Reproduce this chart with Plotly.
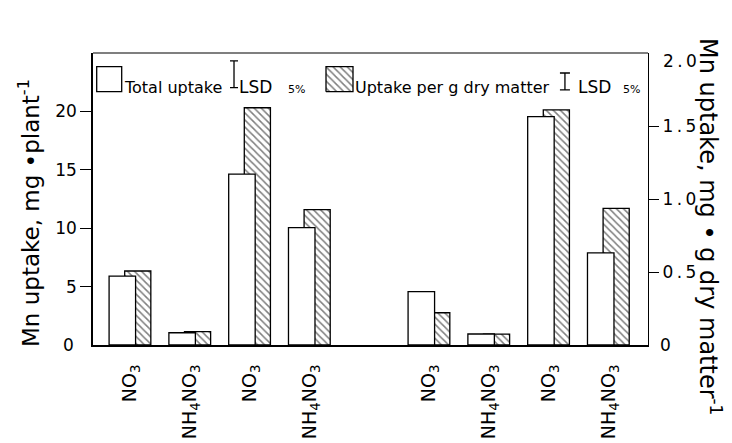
import plotly.graph_objects as go

# ---- data ----
tick_labels = ["NO<sub>3</sub>", "NH<sub>4</sub>NO<sub>3</sub>", "NO<sub>3</sub>", "NH<sub>4</sub>NO<sub>3</sub>",
               "NO<sub>3</sub>", "NH<sub>4</sub>NO<sub>3</sub>", "NO<sub>3</sub>", "NH<sub>4</sub>NO<sub>3</sub>"]
slots = [1, 2, 3, 4, 6, 7, 8, 9]          # category slots (slot 5 is the gap between the two sets)
total_uptake = [5.9, 1.05, 14.63, 10.05, 4.57, 0.94, 19.56, 7.88]        # mg / plant (left axis)
uptake_per_g = [0.507, 0.091, 1.625, 0.927, 0.221, 0.075, 1.61, 0.936]   # mg / g dry matter (right axis)
left_ticks = [5, 10, 15, 20]
right_ticks = [0.5, 1.0, 1.5]
right_tick_text = ["0\u2009.\u20095", "1\u2009.\u20090", "1\u2009.\u20095"]
lsd_total = 2.3     # mg / plant
lsd_per_g = 0.116   # mg / g dry matter

FONT = "DejaVu Sans"
W, H = 732, 443
L, R, T, B = 93, 84, 53, 98
PW, PH = W - L - R, H - T - B


def px(xp):
    return (xp - L) / PW


def py(yp):
    return (H - B - yp) / PH


fig = go.Figure()

# hatched bars: uptake per g dry matter (primary y, drawn on the right side)
fig.add_trace(go.Bar(
    x=slots, y=uptake_per_g, yaxis="y", width=0.437, offset=-0.089,
    marker=dict(color="white", line=dict(color="black", width=1.3),
                pattern=dict(shape="\\", fgcolor="black", bgcolor="white", size=5, solidity=0.3)),
    showlegend=False, hoverinfo="skip"))

# white bars: total uptake (overlaying axis, drawn on the left side, in front)
fig.add_trace(go.Bar(
    x=slots, y=total_uptake, yaxis="y2", width=0.443, offset=-0.35,
    marker=dict(color="white", line=dict(color="black", width=1.3)),
    showlegend=False, hoverinfo="skip"))

# LSD bars in the legend row
fig.add_trace(go.Scatter(
    x=[2.739], y=[23.18], yaxis="y2", mode="markers", marker=dict(size=1, color="rgba(0,0,0,0)"),
    error_y=dict(type="data", array=[lsd_total / 2], color="black", thickness=1.3, width=4),
    showlegend=False, hoverinfo="skip"))
fig.add_trace(go.Scatter(
    x=[8.273], y=[1.805], yaxis="y", mode="markers", marker=dict(size=1, color="rgba(0,0,0,0)"),
    error_y=dict(type="data", array=[lsd_per_g / 2], color="black", thickness=1.3, width=5),
    showlegend=False, hoverinfo="skip"))

# hatched legend swatch (normalised overlay axes)
x0, x1, y0, y1 = px(326), px(353), py(91.7), py(66.7)
fig.add_trace(go.Scatter(
    x=[x0, x1, x1, x0, x0], y=[y0, y0, y1, y1, y0], xaxis="x3", yaxis="y3",
    mode="lines", fill="toself", fillcolor="white", line=dict(color="black", width=1.3),
    fillpattern=dict(shape="\\", fgcolor="black", bgcolor="white", size=5, solidity=0.3),
    showlegend=False, hoverinfo="skip"))

fig.update_layout(
    width=W, height=H, margin=dict(l=L, r=R, t=T, b=B, autoexpand=False),
    paper_bgcolor="white", plot_bgcolor="white",
    font=dict(family=FONT, color="black"),
    barmode="overlay",
    xaxis=dict(range=[0.381, 9.662], tickvals=slots, ticktext=tick_labels, tickangle=-90,
               tickfont=dict(size=19, family=FONT, color="black"), ticks="",
               showline=True, linecolor="black", linewidth=2, showgrid=False, zeroline=False,
               ticklabelstandoff=10, automargin=False),
    yaxis=dict(side="right", range=[0, 2.0], tickvals=right_ticks,
               ticktext=right_tick_text, ticks="outside", ticklen=10, tickwidth=1.2,
               tickcolor="black", tickfont=dict(size=17, family=FONT, color="black"),
               showline=True, linecolor="black", linewidth=1.3, showgrid=False, zeroline=False,
               automargin=False),
    yaxis2=dict(overlaying="y", side="left", range=[0, 25], tickvals=left_ticks,
                ticks="outside", ticklen=11, tickwidth=1.2, tickcolor="black",
                tickfont=dict(size=17, family=FONT, color="black"),
                showline=True, linecolor="black", linewidth=1.5, showgrid=False, zeroline=False,
                automargin=False),
    xaxis3=dict(overlaying="x", range=[0, 1], visible=False, fixedrange=True),
    yaxis3=dict(overlaying="y", range=[0, 1], visible=False, fixedrange=True),
)

# top frame line and white legend swatch
fig.add_shape(type="line", xref="paper", yref="paper", x0=0, x1=1, y0=1, y1=1,
              line=dict(color="black", width=1.2))
fig.add_shape(type="rect", xref="paper", yref="paper", x0=px(96.7), x1=px(121.7),
              y0=py(91.7), y1=py(66.7), line=dict(color="black", width=1.3), fillcolor="white")

ann = []


def text(s, x, y, size, xanchor="left", angle=0):
    ann.append(dict(text=s, x=px(x), y=py(y), xref="paper", yref="paper", showarrow=False,
                    xanchor=xanchor, yanchor="middle", textangle=angle,
                    font=dict(size=size, family=FONT, color="black")))


# legend texts
text("Total uptake", 122, 87, 16)
text("LSD", 237, 87, 17)
text("5%", 286, 89, 11)
text("Uptake per g dry matter", 353, 87, 16)
text("LSD", 576, 87, 17)
text("5%", 621, 89, 11)

# zero labels and top right label (no ticks drawn there)
text("0", 68, 345, 17, xanchor="center")
text("0", 666, 345, 17, xanchor="center")
text("2\u2009.\u20090", 661, 61, 17)

# axis titles
text("Mn uptake, mg •plant<sup>-1</sup>", 29, 213, 23, xanchor="center", angle=-90)
text("Mn uptake, mg • g dry matter<sup>-1</sup>", 710, 226, 24, xanchor="center", angle=90)

fig.update_layout(annotations=ann)
fig.write_html("out.html")
